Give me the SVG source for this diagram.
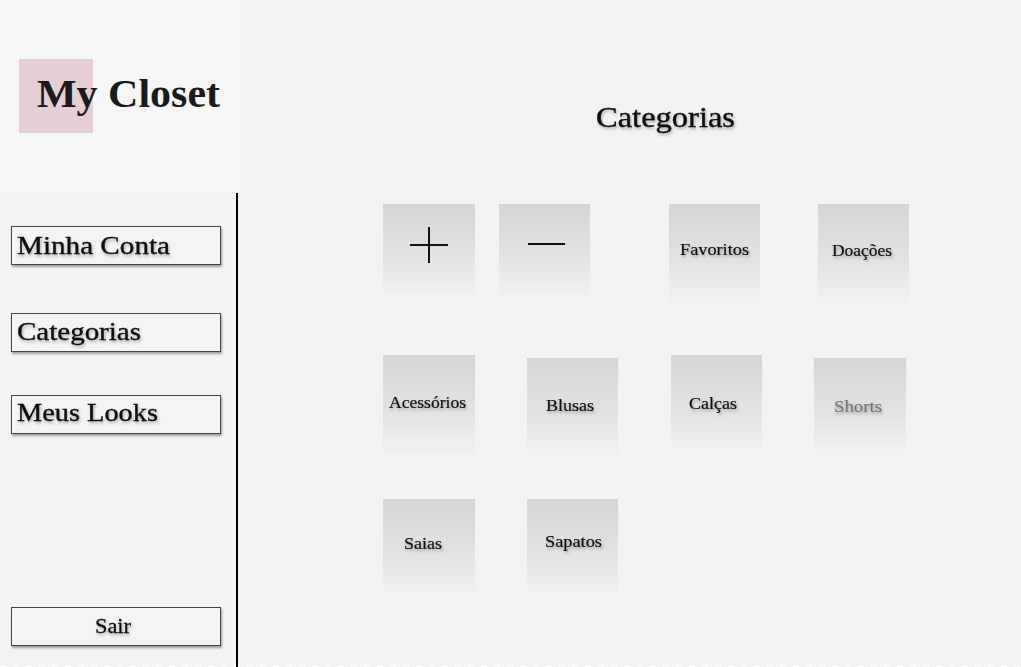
<svg xmlns="http://www.w3.org/2000/svg" width="1021" height="667" viewBox="0 0 1021 667">
<defs>
<linearGradient id="tileG" x1="0" y1="0" x2="0" y2="1">
<stop offset="0" stop-color="#d5d5d5"/>
<stop offset="0.6" stop-color="#e4e4e4"/>
<stop offset="1" stop-color="#f3f3f3"/>
</linearGradient>
<filter id="ts" x="-10%" y="-30%" width="120%" height="170%">
<feDropShadow dx="1" dy="2" stdDeviation="1.4" flood-color="#000" flood-opacity="0.3"/>
</filter>
<filter id="bs" x="-5%" y="-20%" width="110%" height="150%">
<feDropShadow dx="1" dy="2" stdDeviation="1.2" flood-color="#000" flood-opacity="0.35"/>
</filter>
</defs>
<style>
.serif{font-family:"Liberation Serif","DejaVu Serif",serif;}
.menu{font-size:25px;fill:#111;stroke:#111;stroke-width:0.35;}
.tile{fill:url(#tileG);}
.tl{font-size:16px;fill:#111;stroke:#111;stroke-width:0.2;}
.btn{fill:#f4f4f4;stroke:#444;stroke-width:1;}
</style>
<rect x="0" y="0" width="1021" height="667" fill="#f3f3f3"/>
<rect x="0" y="0" width="240" height="192" fill="#f6f6f6"/>
<line x1="0" y1="666" x2="1021" y2="666" stroke="#fff" stroke-width="1.5" stroke-dasharray="6 7"/>

<g id="logo">
<rect x="19" y="59" width="74" height="74" fill="#e6ced4"/>
<text class="serif" x="37" y="107" font-size="39" font-weight="bold" fill="#1a1a1a" textLength="183" lengthAdjust="spacingAndGlyphs">My Closet</text>
</g>

<g id="title">
<text class="serif" x="596" y="127" font-size="29" fill="#111" stroke="#111" stroke-width="0.4" filter="url(#ts)" textLength="139" lengthAdjust="spacingAndGlyphs">Categorias</text>
</g>

<g id="divider">
<line x1="237" y1="193" x2="237" y2="667" stroke="#000" stroke-width="2"/>
</g>

<g id="menu-minha-conta">
<rect class="btn" x="11.5" y="226.5" width="209" height="38" filter="url(#bs)"/>
<text class="serif menu" x="17" y="254" filter="url(#ts)" textLength="153" lengthAdjust="spacingAndGlyphs">Minha Conta</text>
</g>
<g id="menu-categorias">
<rect class="btn" x="11.5" y="313.5" width="209" height="38" filter="url(#bs)"/>
<text class="serif menu" x="17" y="340" filter="url(#ts)" textLength="124" lengthAdjust="spacingAndGlyphs">Categorias</text>
</g>
<g id="menu-meus-looks">
<rect class="btn" x="11.5" y="395.5" width="209" height="38" filter="url(#bs)"/>
<text class="serif menu" x="17" y="421" filter="url(#ts)" textLength="141" lengthAdjust="spacingAndGlyphs">Meus Looks</text>
</g>
<g id="menu-sair">
<rect class="btn" x="11.5" y="607.5" width="209" height="38" filter="url(#bs)"/>
<text class="serif" x="95" y="633" font-size="21" fill="#111" stroke="#111" stroke-width="0.3" filter="url(#ts)" textLength="36" lengthAdjust="spacingAndGlyphs">Sair</text>
</g>

<g id="tile-add">
<rect class="tile" x="383" y="204" width="92" height="95"/>
<line x1="410" y1="245" x2="448" y2="245" stroke="#111" stroke-width="2"/>
<line x1="429" y1="227" x2="429" y2="263" stroke="#111" stroke-width="2"/>
</g>
<g id="tile-remove">
<rect class="tile" x="499" y="204" width="91" height="95"/>
<line x1="528" y1="244" x2="565" y2="244" stroke="#111" stroke-width="2"/>
</g>
<g id="tile-favoritos">
<rect class="tile" x="669" y="204" width="91" height="102"/>
<text class="serif tl" x="680" y="255" filter="url(#ts)" textLength="69" lengthAdjust="spacingAndGlyphs">Favoritos</text>
</g>
<g id="tile-doacoes">
<rect class="tile" x="818" y="204" width="91" height="102"/>
<text class="serif tl" x="832" y="256" filter="url(#ts)" textLength="60" lengthAdjust="spacingAndGlyphs">Doações</text>
</g>
<g id="tile-acessorios">
<rect class="tile" x="383" y="355" width="92" height="102"/>
<text class="serif tl" x="389" y="408" filter="url(#ts)" textLength="77" lengthAdjust="spacingAndGlyphs">Acessórios</text>
</g>
<g id="tile-blusas">
<rect class="tile" x="527" y="358" width="91" height="100"/>
<text class="serif tl" x="546" y="411" filter="url(#ts)" textLength="48" lengthAdjust="spacingAndGlyphs">Blusas</text>
</g>
<g id="tile-calcas">
<rect class="tile" x="671" y="355" width="91" height="100"/>
<text class="serif tl" x="689" y="409" filter="url(#ts)" textLength="48" lengthAdjust="spacingAndGlyphs">Calças</text>
</g>
<g id="tile-shorts">
<rect class="tile" x="814" y="358" width="92" height="98"/>
<text class="serif tl" x="834" y="412" style="fill:#777;stroke:#777" filter="url(#ts)" textLength="48" lengthAdjust="spacingAndGlyphs">Shorts</text>
</g>
<g id="tile-saias">
<rect class="tile" x="383" y="499" width="92" height="100"/>
<text class="serif tl" x="404" y="549" filter="url(#ts)" textLength="38" lengthAdjust="spacingAndGlyphs">Saias</text>
</g>
<g id="tile-sapatos">
<rect class="tile" x="527" y="499" width="91" height="100"/>
<text class="serif tl" x="545" y="547" filter="url(#ts)" textLength="57" lengthAdjust="spacingAndGlyphs">Sapatos</text>
</g>
</svg>
